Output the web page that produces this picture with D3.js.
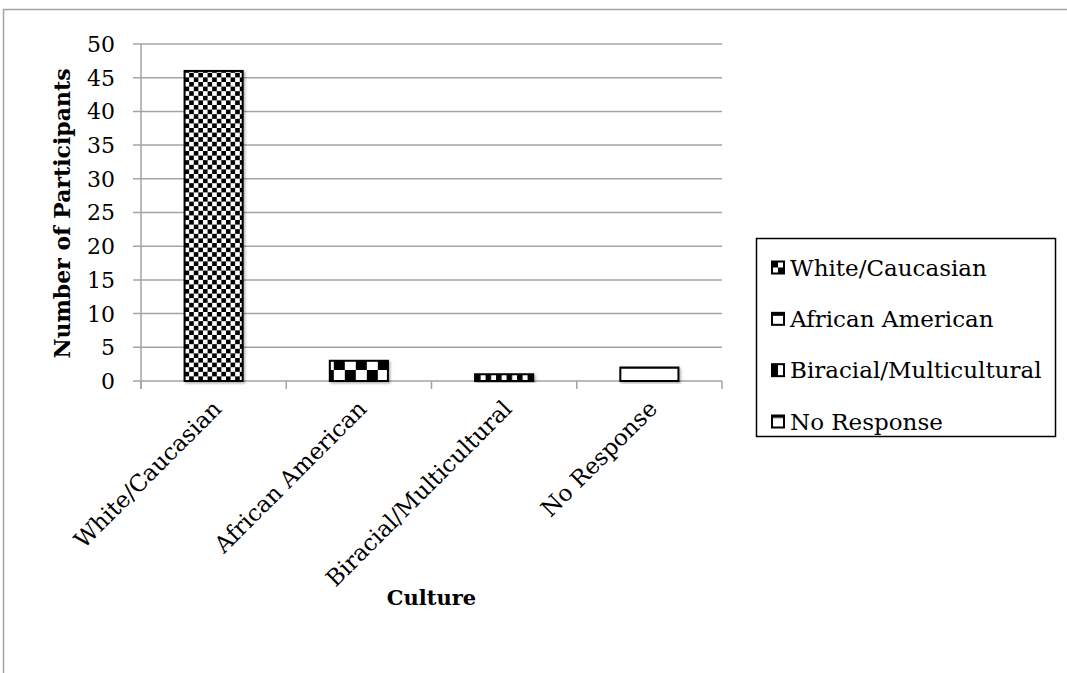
<!DOCTYPE html>
<html>
<head>
<meta charset="utf-8">
<script src="https://cdn.jsdelivr.net/npm/d3@7"></script>
<style>
  html, body { margin: 0; padding: 0; background: #fff; }
  svg { display: block; }
  text { font-family: "DejaVu Serif", "Liberation Serif", serif; fill: #000; }
</style>
</head>
<body>
<svg id="chart" width="1067" height="673"></svg>
<script>
// Participants by self-reported culture
const categories = ["White/Caucasian", "African American", "Biracial/Multicultural", "No Response"];
const participants = [46, 3, 1, 2];
const yTickValues = [0, 5, 10, 15, 20, 25, 30, 35, 40, 45, 50];
const yTitle = "Number of Participants";
const xTitle = "Culture";

const svg = d3.select("#chart");
const W = 1067, H = 673;
const plot = { left: 141, right: 722, top: 44, bottom: 381 };
const grid = "#a3a3a3";

// Outer chart frame (top and left edges)
svg.append("path")
  .attr("d", `M3.5,${H} V9.5 H${W}`)
  .attr("fill", "none").attr("stroke", grid).attr("stroke-width", 1.5);

const x = d3.scaleBand()
  .domain(categories)
  .range([plot.left, plot.right])
  .paddingInner(0.6)
  .paddingOuter(0.3);

const y = d3.scaleLinear().domain([0, 50]).range([plot.bottom, plot.top]);

const defs = svg.append("defs");

// soft drop shadow under bars
const shadow = defs.append("filter").attr("id", "barShadow")
  .attr("x", "-20%").attr("y", "-20%").attr("width", "140%").attr("height", "140%");
shadow.append("feDropShadow").attr("dx", 1.5).attr("dy", 1.5)
  .attr("stdDeviation", 1.2).attr("flood-color", "#000").attr("flood-opacity", 0.3);

// Fill patterns, one per category, tiled from each bar's own bottom-left corner
function barPattern(id, i, x0, y0) {
  const p = defs.append("pattern").attr("id", id).attr("patternUnits", "userSpaceOnUse");
  if (i === 0) {            // small checkerboard
    const c = 4.6;
    p.attr("width", 2 * c).attr("height", 2 * c).attr("x", x0).attr("y", y0);
    p.append("rect").attr("width", 2 * c).attr("height", 2 * c).attr("fill", "#fff");
    p.append("rect").attr("width", c).attr("height", c).attr("fill", "#000");
    p.append("rect").attr("x", c).attr("y", c).attr("width", c).attr("height", c).attr("fill", "#000");
  } else if (i === 1) {     // large checkerboard
    const c = 11;
    p.attr("width", 2 * c).attr("height", 2 * c).attr("x", x0 + 4).attr("y", y0);
    p.append("rect").attr("width", 2 * c).attr("height", 2 * c).attr("fill", "#fff");
    p.append("rect").attr("width", c).attr("height", c).attr("fill", "#000");
    p.append("rect").attr("x", c).attr("y", c).attr("width", c).attr("height", c).attr("fill", "#000");
  } else if (i === 2) {     // wide vertical stripes
    p.attr("width", 10.5).attr("height", 20).attr("x", x0).attr("y", y0);
    p.append("rect").attr("width", 10.5).attr("height", 20).attr("fill", "#fff");
    p.append("rect").attr("width", 5.5).attr("height", 20).attr("fill", "#000");
  } else {                  // sparse horizontal lines
    p.attr("width", 20).attr("height", 14).attr("x", x0).attr("y", y0);
    p.append("rect").attr("width", 20).attr("height", 14).attr("fill", "#fff");
    p.append("rect").attr("width", 20).attr("height", 1.5).attr("fill", "#000");
  }
}

// Gridlines and left ticks
svg.append("g")
  .selectAll("line")
  .data(yTickValues)
  .join("line")
  .attr("x1", plot.left - 8).attr("x2", plot.right)
  .attr("y1", d => y(d)).attr("y2", d => y(d))
  .attr("stroke", grid).attr("stroke-width", 1.5);

// Y axis line
svg.append("line")
  .attr("x1", plot.left).attr("x2", plot.left)
  .attr("y1", plot.top).attr("y2", plot.bottom + 8)
  .attr("stroke", grid).attr("stroke-width", 1.5);

// Category boundary ticks below the x axis
const step = x.step();
svg.append("g")
  .selectAll("line")
  .data(d3.range(categories.length + 1))
  .join("line")
  .attr("x1", i => plot.left + i * step).attr("x2", i => plot.left + i * step)
  .attr("y1", plot.bottom).attr("y2", plot.bottom + 8)
  .attr("stroke", grid).attr("stroke-width", 1.5);

// Y tick labels
svg.append("g")
  .selectAll("text")
  .data(yTickValues)
  .join("text")
  .attr("x", 115).attr("y", d => y(d))
  .attr("dy", "0.36em")
  .attr("text-anchor", "end")
  .style("font-size", "22px")
  .text(d => d);

// Bars
const barData = categories.map((c, i) => ({ cat: c, value: participants[i], i }));
barData.forEach(d => barPattern("fill" + d.i, d.i, x(d.cat), y(0)));

svg.append("g")
  .selectAll("rect")
  .data(barData)
  .join("rect")
  .attr("x", d => x(d.cat))
  .attr("y", d => y(d.value))
  .attr("width", x.bandwidth())
  .attr("height", d => y(0) - y(d.value))
  .attr("fill", d => `url(#fill${d.i})`)
  .attr("stroke", "#000").attr("stroke-width", 2)
  .attr("filter", "url(#barShadow)");

// Rotated category labels
svg.append("g")
  .selectAll("text")
  .data(categories)
  .join("text")
  .attr("transform", d => `translate(${x(d) + x.bandwidth() / 2 - 3},${plot.bottom + 17}) rotate(-45)`)
  .attr("text-anchor", "end")
  .attr("dy", "0.75em")
  .style("font-size", "23px")
  .text(d => d);

// Axis titles
svg.append("text")
  .attr("transform", `translate(70,${(plot.top + plot.bottom) / 2 + 1}) rotate(-90)`)
  .attr("text-anchor", "middle")
  .style("font-size", "22px").style("font-weight", "bold")
  .text(yTitle);

svg.append("text")
  .attr("x", (plot.left + plot.right) / 2).attr("y", 605)
  .attr("text-anchor", "middle")
  .style("font-size", "21px").style("font-weight", "bold")
  .text(xTitle);

// Legend swatch patterns (drawn relative to the swatch box)
function swatchPattern(id, i) {
  const p = defs.append("pattern").attr("id", id)
    .attr("patternUnits", "objectBoundingBox").attr("patternContentUnits", "objectBoundingBox")
    .attr("width", 1).attr("height", 1);
  p.append("rect").attr("width", 1).attr("height", 1).attr("fill", "#fff");
  if (i === 0) {
    p.append("rect").attr("width", 0.5).attr("height", 0.5).attr("fill", "#000");
    p.append("rect").attr("x", 0.5).attr("y", 0.5).attr("width", 0.5).attr("height", 0.5).attr("fill", "#000");
  } else if (i === 1) {
    p.append("rect").attr("width", 1).attr("height", 0.25).attr("fill", "#000");
  } else if (i === 2) {
    p.append("rect").attr("width", 0.5).attr("height", 1).attr("fill", "#000");
  } else {
    p.append("rect").attr("width", 1).attr("height", 0.2).attr("fill", "#000");
  }
}

const legend = svg.append("g");
legend.append("rect")
  .attr("x", 756.5).attr("y", 238.5).attr("width", 299).attr("height", 198)
  .attr("fill", "#fff").attr("stroke", "#000").attr("stroke-width", 1.5);

const rowY = d3.scalePoint().domain(categories).range([267.5, 421.5]);
const rows = legend.selectAll("g.row")
  .data(categories)
  .join("g").attr("class", "row")
  .attr("transform", d => `translate(0,${rowY(d)})`);

categories.forEach((c, i) => swatchPattern("sw" + i, i));
rows.append("rect")
  .attr("x", 772).attr("y", -6)
  .attr("width", 12).attr("height", 12)
  .attr("fill", (d, i) => `url(#sw${i})`)
  .attr("stroke", "#000").attr("stroke-width", 2);

rows.append("text")
  .attr("x", 790).attr("y", 0).attr("dy", "0.36em")
  .style("font-size", "23px")
  .text(d => d);
</script>
</body>
</html>
